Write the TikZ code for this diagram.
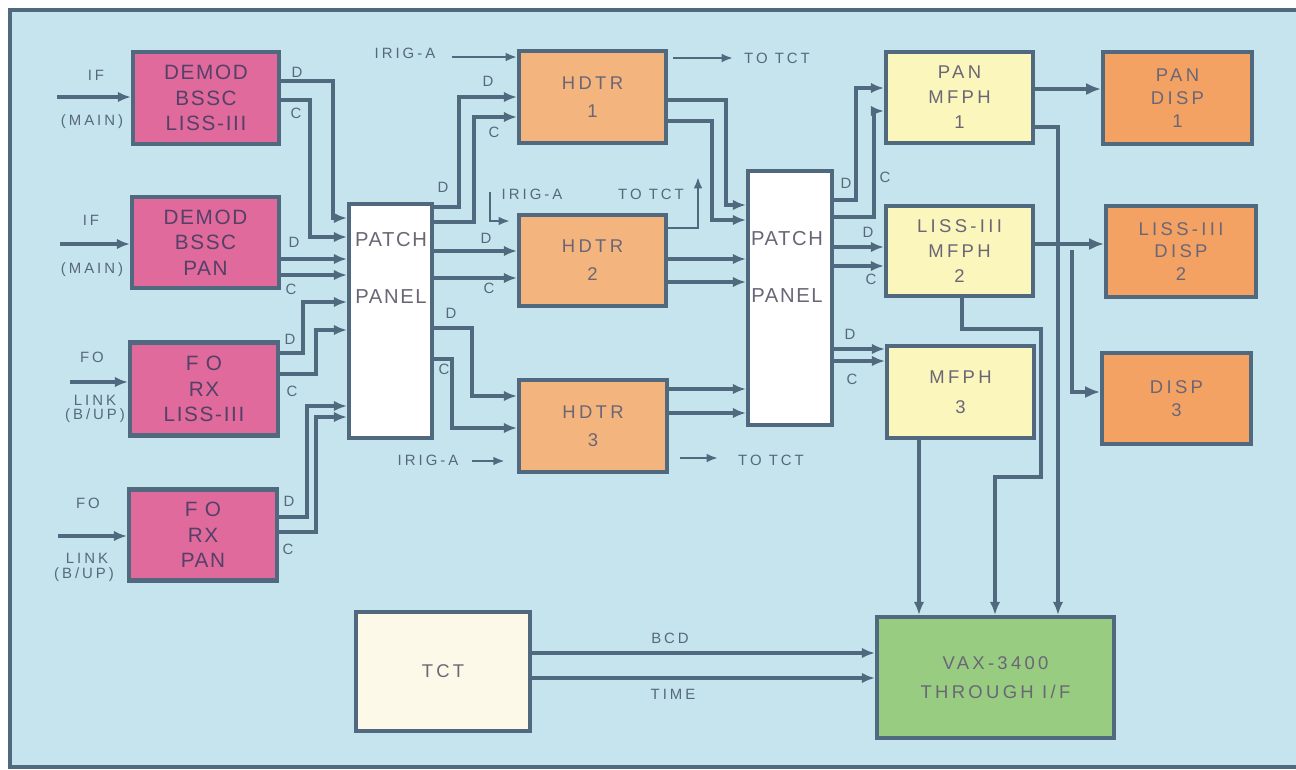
\documentclass[tikz,border=0pt]{standalone}
\usepackage{fontspec}
\setmainfont{Liberation Sans}
\newfontfamily\boxfont{Liberation Sans}[LetterSpace=8]
\newfontfamily\widefont{Liberation Sans}[LetterSpace=18]
\newfontfamily\lblfont{Liberation Sans}[LetterSpace=20]
\usetikzlibrary{arrows.meta}
\definecolor{bgc}{HTML}{C6E4EE}
\definecolor{linec}{HTML}{50697E}
\definecolor{lblc}{HTML}{56697A}
\definecolor{boxtxt}{HTML}{6A6676}
\definecolor{pinktxt}{HTML}{544068}
\definecolor{pinkc}{HTML}{E06A9C}
\definecolor{hdtrc}{HTML}{F4B47E}
\definecolor{dispc}{HTML}{F3A264}
\definecolor{mfphc}{HTML}{FBF6BC}
\definecolor{tctc}{HTML}{FDF9E8}
\definecolor{vaxc}{HTML}{98CC80}
\tikzset{
  blk/.style={draw=linec, line width=2.3pt, align=center, text=boxtxt, inner sep=0pt},
  sz/.style 2 args={minimum width=#1*0.02cm, minimum height=#2*0.02cm},
  pinkbox/.style={blk, fill=pinkc, text=pinktxt, font=\boxfont\fontsize{11.8}{14.5}\selectfont},
  patchbox/.style={blk, fill=white},
  patchtxt/.style={align=center, text=boxtxt, inner sep=0pt, font=\boxfont\fontsize{11.5}{14}\selectfont},
  hdtrbox/.style={blk, fill=hdtrc, font=\widefont\fontsize{10.5}{16}\selectfont},
  mfphbox/.style={blk, fill=mfphc, font=\widefont\fontsize{10.5}{14.2}\selectfont},
  dispbox/.style={blk, fill=dispc, font=\widefont\fontsize{10.5}{13}\selectfont},
  tctbox/.style={blk, fill=tctc, font=\widefont\fontsize{10.5}{13}\selectfont},
  vaxbox/.style={blk, fill=vaxc, font=\widefont\fontsize{10.5}{16.5}\selectfont},
  lbl/.style={text=lblc, inner sep=0pt, font=\lblfont\fontsize{8.5}{9.5}\selectfont},
  wire/.style={draw=linec, line width=1.9pt},
  arr/.style={wire, -{Latex[length=7.5pt,width=6pt]}},
  thinarr/.style={draw=linec, line width=1.2pt, -{Latex[length=6.5pt,width=5pt]}},
  thickarr/.style={draw=linec, line width=2.5pt, -{Latex[length=8.5pt,width=7pt]}}
}
\begin{document}
\begin{tikzpicture}[x=0.02cm, y=-0.02cm]
\useasboundingbox (0,0) rectangle (1296,769);
\clip (0,0) rectangle (1296,769);
\draw[fill=bgc, draw=linec, line width=2pt] (10,10) rectangle (1310,767);

% receivers
\node[pinkbox, sz={146}{92}] (dl) at (206,98) {DEMOD\\BSSC\\LISS-III};
\node[pinkbox, sz={147}{91}] (dp) at (205.5,242.5) {DEMOD\\BSSC\\PAN};
\node[pinkbox, sz={148}{93}] (fl) at (204,389) {F O\\RX\\LISS-III};
\node[pinkbox, sz={148}{91}] (fp) at (203,535) {F O\\RX\\PAN};

% patch panels
\node[patchbox, sz={83}{234}] (pp1) at (390.5,321) {};
\node[patchtxt] (pp1t) at (391,268) {PATCH\\[18pt]PANEL};
\node[patchbox, sz={84}{254}] (pp2) at (790,298) {};
\node[patchtxt] (pp2t) at (787,267) {PATCH\\[18pt]PANEL};

% recorders
\node[hdtrbox, sz={147}{92}] (h1) at (592.5,97) {HDTR\\1};
\node[hdtrbox, sz={147}{91}] (h2) at (592.5,260.5) {HDTR\\2};
\node[hdtrbox, sz={148}{92}] (h3) at (593,426) {HDTR\\3};

% processors and displays
\node[mfphbox, sz={147}{91}] (m1) at (959.5,97.5) {PAN\\MFPH\\1};
\node[mfphbox, sz={147}{90}] (m2) at (959.5,251) {LISS-III\\MFPH\\2};
\node[mfphbox, sz={147}{92}] (m3) at (960.5,392) {MFPH\\[3pt]3};
\node[dispbox, sz={149}{92}] (d1) at (1177.5,98) {PAN\\DISP\\1};
\node[dispbox, sz={150}{91}] (d2) at (1181,251.5) {LISS-III\\DISP\\2};
\node[dispbox, sz={149}{91}] (d3) at (1176.5,398.5) {DISP\\3};
\node[tctbox, sz={174}{119}] (tct) at (443,671.5) {TCT};
\node[vaxbox, sz={237}{121}] (vax) at (995.5,677.5) {VAX-3400\\THROUGH I/F};

% inputs
\coordinate (in1) at (57,97);
\coordinate (in2) at (60,244);
\coordinate (in3) at (70,382);
\coordinate (in4) at (58,536);
\draw[arr] (in1) -- (dl.west |- in1);
\draw[arr] (in2) -- (dp.west |- in2);
\draw[arr] (in3) -- (fl.west |- in3);
\draw[arr] (in4) -- (fp.west |- in4);
\node[lbl] (if1) at (96,75) {IF};
\node[lbl] (main1) at (92,122) {(MAIN)};
\node[lbl] (if2) at (91,220) {IF};
\node[lbl] (main2) at (92,270) {(MAIN)};
\node[lbl] (fo1) at (92,357) {FO};
\node[lbl] (link1) at (95,400) {LINK};
\node[lbl] (bup1) at (95,416) {(B/UP)};
\node[lbl] (fo2) at (88,503) {FO};
\node[lbl] (link2) at (87,558) {LINK};
\node[lbl] (bup2) at (84,575) {(B/UP)};

% receivers to first patch panel
\draw[arr] (dl.east |- 0,81) -| (333,218) -- (pp1.west |- 0,218);
\draw[arr] (dl.east |- 0,100) -| (310,237) -- (pp1.west |- 0,237);
\draw[arr] (dp.east |- 0,259) -- (pp1.west |- 0,259);
\draw[arr] (dp.east |- 0,275) -- (pp1.west |- 0,275);
\draw[arr] (fl.east |- 0,353) -| (303,302) -- (pp1.west |- 0,302);
\draw[arr] (fl.east |- 0,374) -| (316,330) -- (pp1.west |- 0,330);
\draw[arr] (fp.east |- 0,517) -| (307,406) -- (pp1.west |- 0,406);
\draw[arr] (fp.east |- 0,532) -| (316,417) -- (pp1.west |- 0,417);
\node[lbl] (dA) at (297,72) {D};
\node[lbl] (cA) at (296,113) {C};
\node[lbl] (dB) at (294,242) {D};
\node[lbl] (cB) at (291,289) {C};
\node[lbl] (dC) at (290,339) {D};
\node[lbl] (cC) at (292,391) {C};
\node[lbl] (dD) at (289,501) {D};
\node[lbl] (cD) at (288,549) {C};

% first patch panel to recorders
\draw[arr] (pp1.east |- 0,207) -| (459,97) -- (h1.west |- 0,97);
\draw[arr] (pp1.east |- 0,222) -| (474,117) -- (h1.west |- 0,117);
\draw[arr] (pp1.east |- 0,251) -- (h2.west |- 0,251);
\draw[arr] (pp1.east |- 0,278) -- (h2.west |- 0,278);
\draw[arr] (pp1.east |- 0,328) -| (472,396) -- (h3.west |- 0,396);
\draw[arr] (pp1.east |- 0,359) -| (452,428) -- (h3.west |- 0,428);
\node[lbl] (dE) at (443,187) {D};
\node[lbl] (dF) at (488,81) {D};
\node[lbl] (cF) at (494,132) {C};
\node[lbl] (dG) at (486,238) {D};
\node[lbl] (cG) at (489,288) {C};
\node[lbl] (dH) at (451,313) {D};
\node[lbl] (cH) at (444,369) {C};

% time code in and out
\coordinate (ir1) at (452,57);
\coordinate (ir2) at (490,192);
\coordinate (ir3) at (472,461);
\draw[thinarr] (ir1) -- (h1.west |- ir1);
\draw[thinarr, shorten >=4pt] (ir2) |- (h2.west |- 0,221);
\draw[thinarr, shorten >=7pt] (ir3) -- (h3.west |- ir3);
\node[lbl] (irA) at (405,53) {IRIG-A};
\node[lbl] (irB) at (532,194) {IRIG-A};
\node[lbl] (irC) at (428,460) {IRIG-A};
\coordinate (tt1) at (733,58);
\coordinate (tt2) at (698,177);
\coordinate (tt3) at (718,458);
\draw[thinarr, shorten <=3pt] (h1.east |- tt1) -- (tt1);
\draw[thinarr] (h2.east |- 0,228) -| (tt2);
\draw[thinarr, shorten <=6pt] (h3.east |- tt3) -- (tt3);
\node[lbl] (ttA) at (777,58) {TO TCT};
\node[lbl] (ttB) at (651,194) {TO TCT};
\node[lbl] (ttC) at (771,460) {TO TCT};

% recorders to second patch panel
\draw[arr] (h1.east |- 0,100) -| (726,205) -- (pp2.west |- 0,205);
\draw[arr] (h1.east |- 0,121) -| (712,220) -- (pp2.west |- 0,220);
\draw[arr] (h2.east |- 0,259) -- (pp2.west |- 0,259);
\draw[arr] (h2.east |- 0,282) -- (pp2.west |- 0,282);
\draw[arr] (h3.east |- 0,389) -- (pp2.west |- 0,389);
\draw[arr] (h3.east |- 0,413) -- (pp2.west |- 0,413);

% second patch panel to processors
\draw[arr] (pp2.east |- 0,200) -| (856,88) -- (m1.west |- 0,88);
\draw[arr] (pp2.east |- 0,217) -| (874,111) -- (m1.west |- 0,111);
\draw[arr] (pp2.east |- 0,247) -- (m2.west |- 0,247);
\draw[arr] (pp2.east |- 0,266) -- (m2.west |- 0,266);
\draw[arr] (pp2.east |- 0,349) -- (m3.west |- 0,349);
\draw[arr] (pp2.east |- 0,361) -- (m3.west |- 0,361);
\node[lbl] (dJ) at (846,183) {D};
\node[lbl] (cJ) at (885,177) {C};
\node[lbl] (dK) at (868,232) {D};
\node[lbl] (cK) at (871,279) {C};
\node[lbl] (dL) at (850,334) {D};
\node[lbl] (cL) at (852,379) {C};

% processors to displays and computer
\draw[thickarr] (m1.east |- 0,89) -- (d1.west |- 0,89);
\draw[thickarr] (m2.east |- 0,244) -- (d2.west |- 0,244);
\coordinate (br) at (1072,250);
\draw[thickarr] (br) |- (d3.west |- 0,392);
\draw[arr] (m1.east |- 0,127) -| (vax.north -| 1058,0);
\draw[arr] (m2.south -| 962,0) |- (1041,329) |- (995,477) -- (vax.north -| 995,0);
\draw[arr] (m3.south -| 919,0) -- (vax.north -| 919,0);

% time code to computer
\draw[arr] (tct.east |- 0,653) -- (vax.west |- 0,653);
\draw[arr] (tct.east |- 0,678) -- (vax.west |- 0,678);
\node[lbl] (bcd) at (670,638) {BCD};
\node[lbl] (time) at (673,694) {TIME};
\end{tikzpicture}
\end{document}
